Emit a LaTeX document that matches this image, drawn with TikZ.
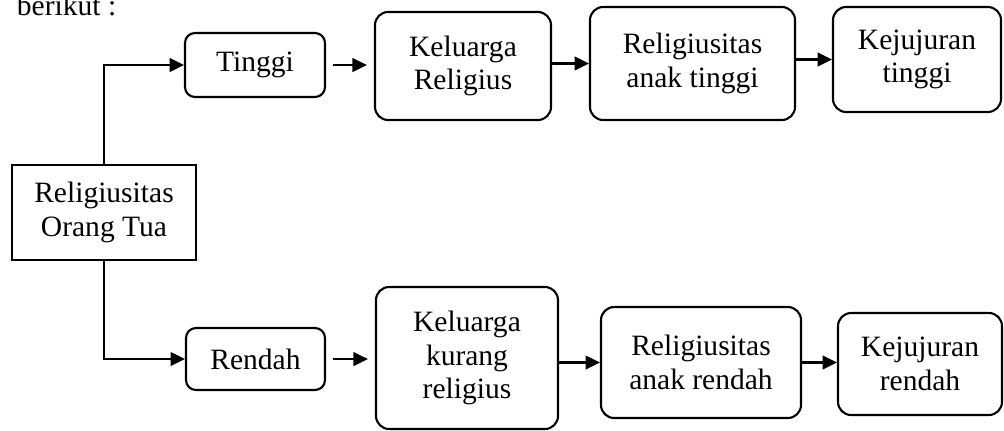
\documentclass[tikz,border=0pt]{standalone}
\usepackage{fontspec}
\setmainfont{Liberation Serif}
\usepackage{tikz}
\usetikzlibrary{arrows.meta, calc}
\tikzset{
    kotak/.style = {draw, line width = 1.5pt, align = center, inner sep = 0pt},
    kotakbulat/.style = {kotak, rounded corners = 0.33cm},
    panah/.style = {line width = 1.6pt, -{Triangle[length = 0.36cm, width = 0.34cm]}}
}

\begin{document}
\begin{tikzpicture}[x = 0.025cm, y = -0.025cm, font = \fontsize{21}{24}\selectfont]
    % Bordo
    \useasboundingbox (0,0) rectangle (1004,430);
    % Parametri
    \pgfmathsetmacro{\gap}{5}
    % Punti d'interesse
    \coordinate (cOrtu) at (104,212.5);
    \coordinate (cTinggi) at (255,65);
    \coordinate (cKelT) at (463,66);
    \coordinate (cAnakT) at (692.5,63.5);
    \coordinate (cJujurT) at (917,59.5);
    \coordinate (cRendah) at (255.5,359);
    \coordinate (cKelR) at (467,358);
    \coordinate (cAnakR) at (701,362.5);
    \coordinate (cJujurR) at (920,364);
    % Testo
    \node[anchor = base west] (berikut) at (12,15) {berikut :};
    % Nodi
    \node[kotak, minimum width = 4.6cm, minimum height = 2.375cm] (ortu) at (cOrtu) {Religiusitas\\Orang Tua};
    \node[kotakbulat, rounded corners = 0.25cm, minimum width = 3.5cm, minimum height = 1.6cm] (tinggi) at (cTinggi) {Tinggi};
    \node[kotakbulat, minimum width = 4.4cm, minimum height = 2.7cm] (kelT) at (cKelT) {Keluarga\\Religius};
    \node[kotakbulat, minimum width = 5.125cm, minimum height = 2.825cm] (anakT) at (cAnakT) {Religiusitas\\anak tinggi};
    \node[kotakbulat, minimum width = 4.2cm, minimum height = 2.625cm] (jujurT) at (cJujurT) {Kejujuran\\tinggi};
    \node[kotakbulat, rounded corners = 0.25cm, minimum width = 3.475cm, minimum height = 1.55cm] (rendah) at (cRendah) {Rendah};
    \node[kotakbulat, minimum width = 4.55cm, minimum height = 3.55cm] (kelR) at (cKelR) {Keluarga\\kurang\\religius};
    \node[kotakbulat, minimum width = 5cm, minimum height = 2.775cm] (anakR) at (cAnakR) {Religiusitas\\anak rendah};
    \node[kotakbulat, minimum width = 4.1cm, minimum height = 2.55cm] (jujurR) at (cJujurR) {Kejujuran\\rendah};
    % Frecce
    \draw[panah] (ortu.north) |- (tinggi.west);
    \draw[panah] (ortu.south) |- (rendah.west);
    \draw[panah, shorten <= \gap, shorten >= \gap] (tinggi.east) -- (tinggi.east -| kelT.west);
    \draw[panah] (kelT.east |- anakT.west) -- (anakT.west);
    \draw[panah] (anakT.east |- jujurT.west) -- (jujurT.west);
    \draw[panah, shorten <= \gap, shorten >= \gap] (rendah.east) -- (rendah.east -| kelR.west);
    \draw[panah] (kelR.east |- anakR.west) -- (anakR.west);
    \draw[panah] (anakR.east) -- (anakR.east -| jujurR.west);
\end{tikzpicture}
\end{document}
